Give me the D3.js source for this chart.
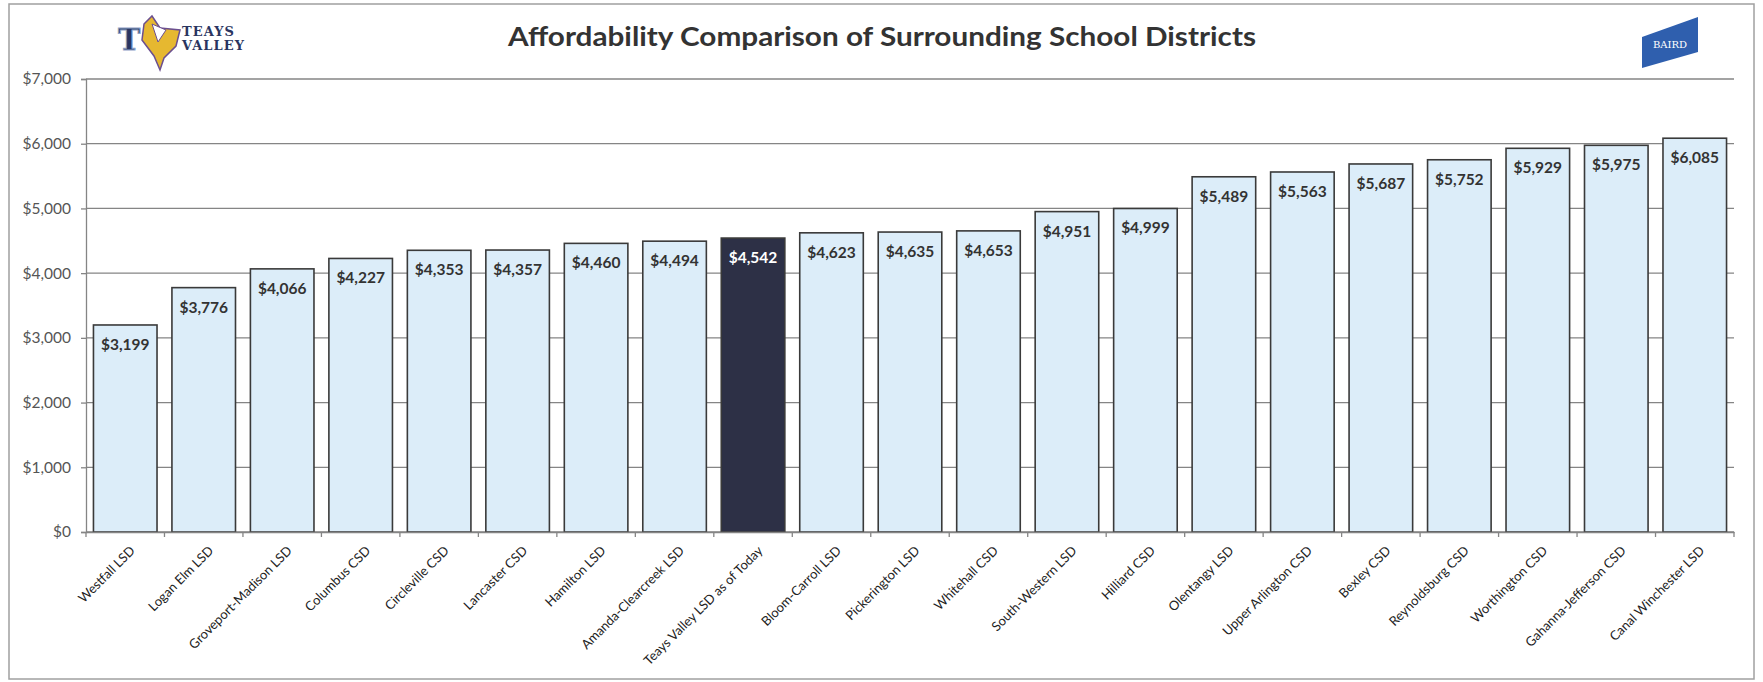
<!DOCTYPE html>
<html><head><meta charset="utf-8">
<script src="https://cdn.jsdelivr.net/npm/d3@7"></script>
<style>body{margin:0;background:#fff;}svg{display:block;}</style>
</head><body>
<svg id="chart" width="1763" height="682"></svg>
<script>
const categories = ["Westfall LSD","Logan Elm LSD","Groveport-Madison LSD","Columbus CSD","Circleville CSD","Lancaster CSD","Hamilton LSD","Amanda-Clearcreek LSD","Teays Valley LSD as of Today","Bloom-Carroll LSD","Pickerington LSD","Whitehall CSD","South-Western LSD","Hilliard CSD","Olentangy LSD","Upper Arlington CSD","Bexley CSD","Reynoldsburg CSD","Worthington CSD","Gahanna-Jefferson CSD","Canal Winchester LSD"];
const values = [3199,3776,4066,4227,4353,4357,4460,4494,4542,4623,4635,4653,4951,4999,5489,5563,5687,5752,5929,5975,6085];
const highlight = "Teays Valley LSD as of Today";
const yTicks = [0,1000,2000,3000,4000,5000,6000,7000];
const title = "Affordability Comparison of Surrounding School Districts";

(function(){
const svg = d3.select("#chart");
const pLeft = 86, pRight = 1734, pTop = 79, pBottom = 532;

// outer border
svg.append("rect").attr("x",9).attr("y",4).attr("width",1745).attr("height",675)
  .attr("fill","none").attr("stroke","#a0a0a0").attr("stroke-width",1.5);

const x = d3.scaleBand().domain(categories).range([pLeft,pRight]).paddingInner(0.19).paddingOuter(0.095);
const y = d3.scaleLinear().domain([0,7000]).range([pBottom,pTop]);

// gridlines
svg.append("g").selectAll("line").data(yTicks).join("line")
  .attr("x1",pLeft).attr("x2",pRight).attr("y1",d=>y(d)).attr("y2",d=>y(d))
  .attr("stroke","#858585").attr("stroke-width",1.3);

// y axis
const yAxis = svg.append("g").attr("transform",`translate(${pLeft},0)`)
  .call(d3.axisLeft(y).tickValues(yTicks).tickSize(5).tickPadding(10).tickFormat(d=>"$"+d3.format(",")(d)));
yAxis.select(".domain").attr("stroke","#858585").attr("stroke-width",1.3);
yAxis.selectAll(".tick line").attr("stroke","#858585").attr("stroke-width",1.3);
yAxis.selectAll("text").attr("font-family","Lato, 'Open Sans', sans-serif").attr("font-size",15.5).attr("fill","#555");

// bars
svg.append("g").selectAll("rect").data(categories).join("rect")
  .attr("x",d=>x(d)).attr("width",x.bandwidth())
  .attr("y",(d,i)=>y(values[i])).attr("height",(d,i)=>y(0)-y(values[i]))
  .attr("fill",d=>d===highlight?"#2d3046":"#dcedf9")
  .attr("stroke","#3a3a3a").attr("stroke-width",1.6);

// x axis
const xAxis = svg.append("g").attr("transform",`translate(0,${pBottom})`)
  .call(d3.axisBottom(x).tickSize(0).tickFormat(""));
xAxis.select(".domain").attr("stroke","#858585").attr("stroke-width",1.3);
// tick marks between categories
const step = x.step();
const bounds = d3.range(categories.length+1).map(i=>pLeft + i*step);
svg.append("g").selectAll("line").data(bounds).join("line")
  .attr("x1",d=>d).attr("x2",d=>d).attr("y1",pBottom).attr("y2",pBottom+5)
  .attr("stroke","#858585").attr("stroke-width",1.3);

// x labels
svg.append("g").selectAll("text").data(categories).join("text")
  .attr("transform",d=>`translate(${x(d)+x.bandwidth()/2+5},${pBottom+14}) rotate(-45)`)
  .attr("text-anchor","end").attr("dy","0.6em")
  .attr("font-family","Lato, 'Open Sans', sans-serif").attr("font-size",13).attr("fill","#222")
  .text(d=>d);

// value labels
svg.append("g").selectAll("text").data(categories).join("text")
  .attr("x",d=>x(d)+x.bandwidth()/2).attr("y",(d,i)=>y(values[i])+25)
  .attr("text-anchor","middle")
  .attr("font-family","Lato, 'Open Sans', sans-serif").attr("font-weight","bold").attr("font-size",15.5)
  .attr("fill",d=>d===highlight?"#fff":"#333")
  .text((d,i)=>"$"+d3.format(",")(values[i]));

// title
svg.append("text").attr("x",882).attr("y",46).attr("text-anchor","middle")
  .attr("font-family","Lato, 'Open Sans', sans-serif").attr("font-weight","bold").attr("font-size",27)
  .attr("fill","#333").attr("textLength",748).attr("lengthAdjust","spacingAndGlyphs")
  .text(title);

// Teays Valley logo (approximation)
const logo = svg.append("g");
logo.append("text").attr("x",118).attr("y",50).attr("font-family","'DejaVu Serif', serif").attr("font-weight","bold")
  .attr("font-size",30).attr("fill","#2a3560").attr("stroke","#8fa3c8").attr("stroke-width",1).text("T");
logo.append("path").attr("d","M144,24 L152,16 L160,28 L180,30 L176,46 L164,58 L160,70 L154,56 L142,40 Z")
  .attr("fill","#e6b830").attr("stroke","#6b4f8f").attr("stroke-width",1.5);
logo.append("path").attr("d","M152,24 L166,30 L158,42 Z").attr("fill","#fff").attr("stroke","#6b4f8f");
logo.append("text").attr("x",182).attr("y",36).attr("font-family","'DejaVu Serif', serif").attr("font-weight","bold")
  .attr("font-size",13).attr("fill","#2a3560").attr("textLength",52).text("TEAYS");
logo.append("text").attr("x",182).attr("y",50).attr("font-family","'DejaVu Serif', serif").attr("font-weight","bold")
  .attr("font-size",13).attr("fill","#2a3560").attr("textLength",62).text("VALLEY");

// Baird logo
svg.append("path").attr("d","M1642,37 L1698,17 L1698,52 L1642,68 Z").attr("fill","#2f5fae");
svg.append("text").attr("x",1670).attr("y",48).attr("text-anchor","middle")
  .attr("font-family","'DejaVu Serif', serif").attr("font-size",10).attr("fill","#fff").text("BAIRD");
})();
</script>
</body></html>
